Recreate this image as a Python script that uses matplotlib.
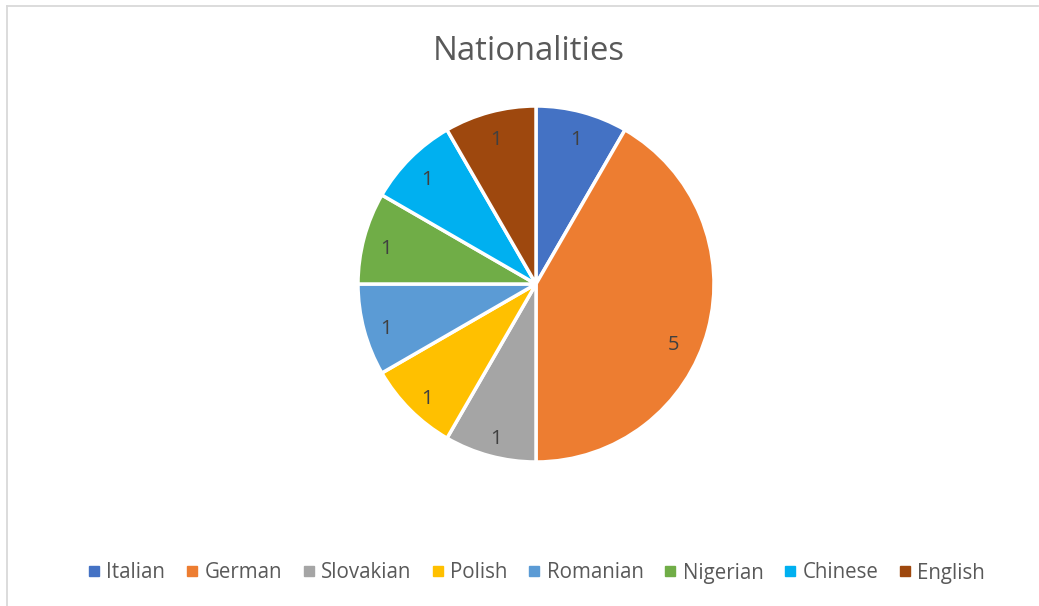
import matplotlib.pyplot as plt
from matplotlib.lines import Line2D

nationalities = ["Italian", "German", "Slovakian", "Polish",
                 "Romanian", "Nigerian", "Chinese", "English"]
counts = [1, 5, 1, 1, 1, 1, 1, 1]
colors = ["#4472C4", "#ED7D31", "#A5A5A5", "#FFC000",
          "#5B9BD5", "#70AD47", "#00B0F0", "#9E480E"]

plt.rcParams["font.family"] = ["Open Sans", "DejaVu Sans"]

W, H = 1039, 606
fig = plt.figure(figsize=(W / 100, H / 100), dpi=100)

# chart border (left, top, right; bottom is cropped in the reference)
fig.add_artist(Line2D([6.5 / W, 6.5 / W], [0, 1 - 6 / H], color="#D9D9D9", lw=1.3))
fig.add_artist(Line2D([6.5 / W, 1038 / W], [1 - 6 / H, 1 - 6 / H], color="#D9D9D9", lw=1.3))

cx, cy, r = 536, 284, 178
ax = fig.add_axes([(cx - r) / W, 1 - (cy + r) / H, 2 * r / W, 2 * r / H])
wedges, _, autotexts = ax.pie(
    counts, colors=colors, startangle=90, counterclock=False, radius=1,
    autopct=lambda p: f"{round(p * sum(counts) / 100)}", pctdistance=0.87,
    wedgeprops=dict(edgecolor="white", linewidth=2.5),
    textprops=dict(color="#404040", fontsize=14.5),
)
# Excel "best fit" puts the big slice's label a bit lower
autotexts[1].set_position((0.77, -0.31))
# nudge labels down a little so the digits sit centred like Excel's
for t in autotexts:
    x, y = t.get_position()
    t.set_position((x, y - 0.03))
ax.set_xlim(-1, 1)
ax.set_ylim(-1, 1)
ax.set_aspect("equal")
ax.axis("off")

fig.text(529 / W, 1 - 51 / H, "Nationalities", ha="center", va="center",
         fontsize=23.7, color="#595959")

handles = [Line2D([], [], marker="s", linestyle="none", markersize=7.5,
                  markerfacecolor=c, markeredgecolor=c) for c in colors]
fig.legend(handles, nationalities, loc="center", bbox_to_anchor=(535 / W, 1 - 573 / H),
           ncol=len(nationalities), frameon=False, fontsize=14.8,
           labelcolor="#595959", handletextpad=0.15, columnspacing=0.85,
           handlelength=0.9)

fig.savefig("out.png", dpi=100, facecolor="white")
